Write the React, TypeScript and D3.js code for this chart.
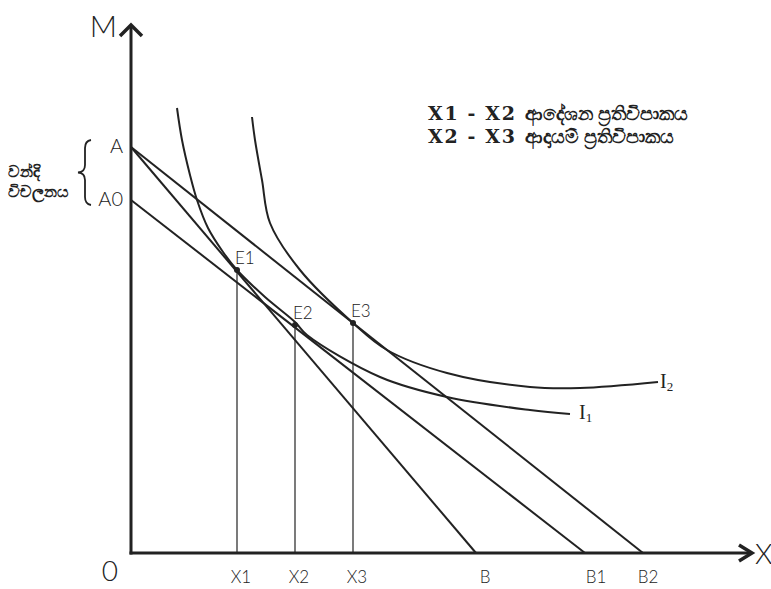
import React from "react";
import * as d3 from "d3";

// Data units: x = quantity of good X, y = money (M)
const budgetIntercepts = [
  { name: "AB", y0: 406, x0: 345 },
  { name: "AB2", y0: 406, x0: 512 },
  { name: "A0B1", y0: 353, x0: 454 },
];
const equilibria = [
  { name: "E1", x: 106, y: 283, tick: "X1" },
  { name: "E2", x: 164, y: 228, tick: "X2" },
  { name: "E3", x: 222, y: 230, tick: "X3" },
];
const xEndLabels = [
  { name: "B", x: 345 },
  { name: "B1", x: 454 },
  { name: "B2", x: 512 },
];
const yLabels = [
  { name: "A", y: 406 },
  { name: "A0", y: 353 },
];
const curveI1: [number, number][] = [
  [46, 445], [51, 413], [59, 378], [66, 353], [77, 325], [92, 301], [106, 283],
  [134, 256], [164, 231], [176, 218], [249, 176], [316, 156], [399, 143], [439, 139],
];
const curveI2: [number, number][] = [
  [121, 436], [124, 413], [131, 373], [139, 330], [169, 283], [222, 230],
  [256, 203], [316, 180], [399, 166], [449, 165], [527, 171],
];
const legendLines = [
  { left: "X1 - X2", right: "ආදේශන ප්‍රතිවිපාකය" },
  { left: "X2 - X3", right: "ආදායම් ප්‍රතිවිපාකය" },
];
const sideLabel = ["වන්දි", "විචලනය"];

const W = 771;
const H = 589;
const x = d3.scaleLinear().domain([0, 620]).range([131, 751]);
const y = d3.scaleLinear().domain([0, 525]).range([553, 28]);

const lightFont = "Lato, 'Open Sans', 'DejaVu Sans', sans-serif";
const serif = "'Liberation Serif', 'DejaVu Serif', serif";

export default function App() {
  const line = d3
    .line<[number, number]>()
    .x((d) => x(d[0]))
    .y((d) => y(d[1]))
    .curve(d3.curveCatmullRom.alpha(0.5));
  const straight = d3.line<[number, number]>().x((d) => x(d[0])).y((d) => y(d[1]));

  return (
    <svg
      width={W}
      height={H}
      style={{ position: "absolute", left: 0, top: 0, background: "#fff" }}
    >
      <rect x={0} y={0} width={W} height={H} fill="#fff" />
      {/* budget lines */}
      {budgetIntercepts.map((b) => (
        <path
          key={b.name}
          d={straight([[0, b.y0], [b.x0, 0]]) || ""}
          stroke="#222"
          strokeWidth={2}
          fill="none"
        />
      ))}
      {/* indifference curves */}
      <path d={line(curveI1) || ""} stroke="#222" strokeWidth={2} fill="none" />
      <path d={line(curveI2) || ""} stroke="#222" strokeWidth={2} fill="none" />
      {/* drop lines and points */}
      {equilibria.map((e) => (
        <g key={e.name}>
          <line x1={x(e.x)} x2={x(e.x)} y1={y(e.y)} y2={y(0)} stroke="#222" strokeWidth={1.2} />
          <circle cx={x(e.x)} cy={y(e.y)} r={3} fill="#222" />
          <text
            x={x(e.x) - 2}
            y={y(e.y) - 6}
            fontFamily={lightFont}
            fontWeight={300}
            fontSize={17}
            fill="#222"
          >
            {e.name}
          </text>
          <text
            x={x(e.x) + 4}
            y={583}
            textAnchor="middle"
            fontFamily={lightFont}
            fontWeight={300}
            fontSize={17}
            fill="#222"
          >
            {e.tick}
          </text>
        </g>
      ))}
      {xEndLabels.map((b) => (
        <text
          key={b.name}
          x={x(b.x) + (b.name === "B" ? 9 : b.name === "B1" ? 11 : 5)}
          y={583}
          textAnchor="middle"
          fontFamily={lightFont}
          fontWeight={300}
          fontSize={17}
          fill="#222"
        >
          {b.name}
        </text>
      ))}
      {/* axes */}
      <line x1={x(0)} x2={x(0)} y1={y(0) + 1.5} y2={y(525) - 2} stroke="#222" strokeWidth={3} />
      <line x1={x(0) - 1.5} x2={x(620)} y1={y(0)} y2={y(0)} stroke="#222" strokeWidth={3} />
      <path
        d={`M${x(0) - 11},${y(525) + 8} L${x(0)},${y(525) - 3} L${x(0) + 11},${y(525) + 8}`}
        stroke="#222"
        strokeWidth={3.5}
        fill="none"
      />
      <path
        d={`M${x(620) - 12},${y(0) - 8} L${x(620) + 1},${y(0)} L${x(620) - 12},${y(0) + 8}`}
        stroke="#222"
        strokeWidth={3.5}
        fill="none"
      />
      <text x={x(620) + 4} y={y(0) + 11} fontFamily={lightFont} fontWeight={300} fontSize={28} fill="#222">
        X
      </text>
      <text x={117} y={37} textAnchor="end" fontFamily={lightFont} fontWeight={300} fontSize={30} fill="#222">
        M
      </text>
      <text x={118} y={581} textAnchor="end" fontFamily={lightFont} fontWeight={300} fontSize={28} fill="#222">
        0
      </text>
      {/* A, A0 */}
      {yLabels.map((l) => (
        <text
          key={l.name}
          x={123}
          y={y(l.y) + 6}
          textAnchor="end"
          fontFamily={lightFont}
          fontWeight={300}
          fontSize={20}
          fill="#222"
        >
          {l.name}
        </text>
      ))}
      {/* brace */}
      <path
        d="M91,140 Q85,141 85,148 L85,165 Q85,172 78,172.5 Q85,173 85,180 L85,197 Q85,204 91,205"
        stroke="#222"
        strokeWidth={1.8}
        fill="none"
      />
      {sideLabel.map((s, i) => (
        <text
          key={s}
          x={8}
          y={177 + i * 20}
          fontFamily="'Noto Sans', sans-serif"
          fontWeight={600}
          fontSize={16}
          fill="#222"
        >
          {s}
        </text>
      ))}
      {/* curve labels */}
      <text x={660} y={388} fontFamily={serif} fontSize={20} fill="#222">
        I<tspan fontSize={13} dy={3}>2</tspan>
      </text>
      <text x={579} y={419} fontFamily={serif} fontSize={20} fill="#222">
        I<tspan fontSize={13} dy={3}>1</tspan>
      </text>
      {/* legend */}
      {legendLines.map((l, i) => (
        <g key={l.left}>
          <text
            x={428}
            y={120 + i * 23}
            fontFamily="'DejaVu Serif', serif"
            fontWeight={700}
            fontSize={19}
            textLength={87}
            lengthAdjust="spacing"
            fill="#222"
          >
            {l.left}
          </text>
          <text
            x={525}
            y={120 + i * 23}
            fontFamily="'Noto Sans', sans-serif"
            fontWeight={600}
            fontSize={18.5}
            fill="#222"
          >
            {l.right}
          </text>
        </g>
      ))}
    </svg>
  );
}
